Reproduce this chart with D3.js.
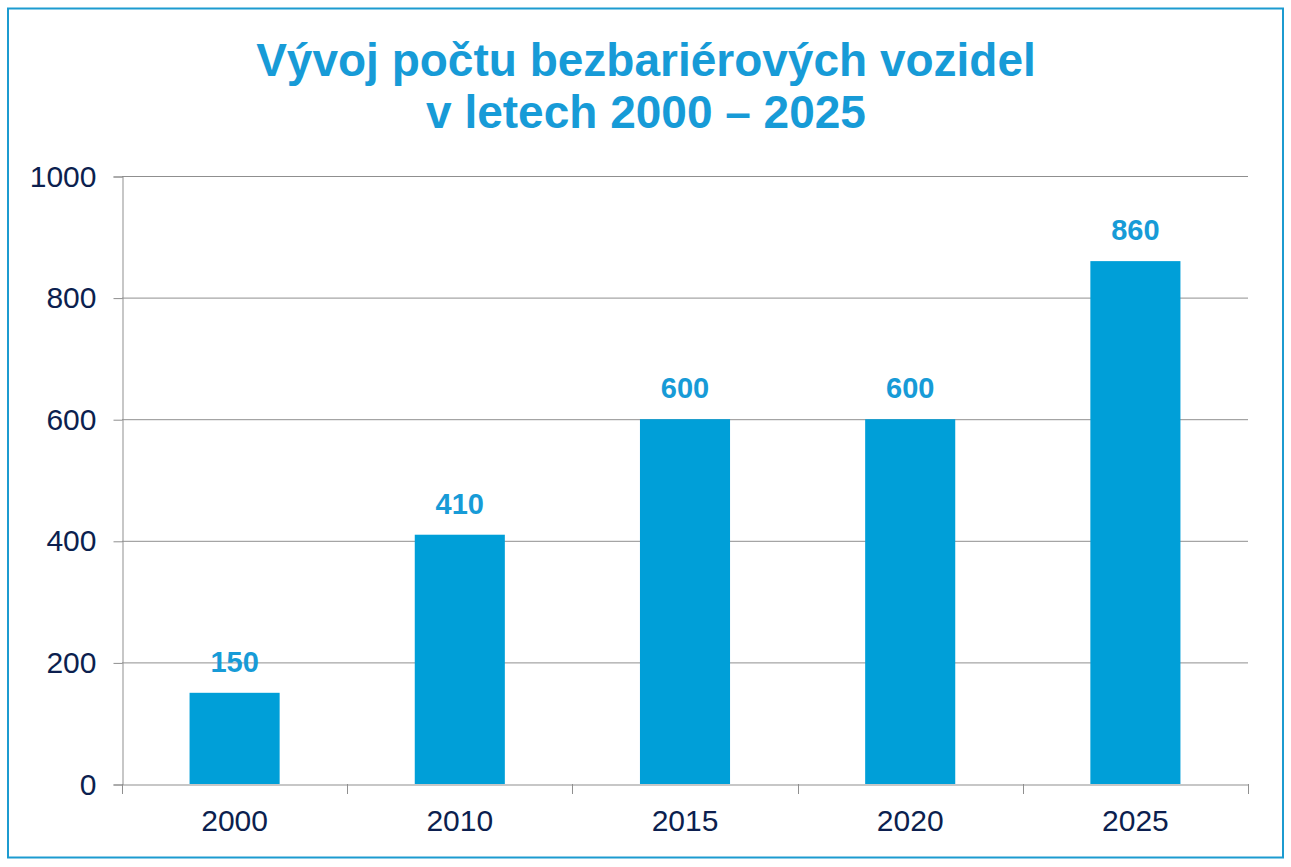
<!DOCTYPE html>
<html><head><meta charset="utf-8">
<script src="https://cdn.jsdelivr.net/npm/d3@7"></script>
<style>body{margin:0;background:#fff}svg{display:block}text{font-family:"Liberation Sans",Arial,sans-serif}</style>
</head><body>
<svg id="c" width="1291" height="867"></svg>
<script>
const categories = ["2000","2010","2015","2020","2025"];
const values = [150,410,600,600,860];
const yTicks = [0,200,400,600,800,1000];
const titleLines = ["Vývoj počtu bezbariérových vozidel","v letech 2000 – 2025"];

(function(){
const svg = d3.select("#c");
const pLeft=122,pRight=1248,pTop=176,pBottom=784;
const blue="#009fd8", labelBlue="#179bd7", navy="#0c1f4f", grid="#8f8f8f";

svg.append("rect").attr("x",8).attr("y",8.5).attr("width",1275).attr("height",849)
  .attr("fill","#fff").attr("stroke","#1c9bd0").attr("stroke-width",2);

svg.selectAll("text.title").data(titleLines).enter().append("text").attr("class","title")
  .attr("x",646).attr("y",(d,i)=>76+i*52).attr("text-anchor","middle")
  .attr("font-size",46).attr("font-weight","bold").attr("fill",labelBlue).text(d=>d);

const x=d3.scaleBand().domain(categories).range([pLeft,pRight]).padding(0);
const y=d3.scaleLinear().domain([0,1000]).range([pBottom,pTop]);

svg.append("g").selectAll("line").data(yTicks.filter(t=>t>0)).enter().append("line")
  .attr("x1",pLeft).attr("x2",pRight).attr("y1",d=>y(d)+0.5).attr("y2",d=>y(d)+0.5)
  .attr("stroke",grid).attr("stroke-width",1);

const ya=svg.append("g").attr("transform",`translate(${pLeft+0.5},0.5)`)
  .call(d3.axisLeft(y).tickValues(yTicks).tickSize(9).tickPadding(17).tickFormat(d3.format("d")));
ya.select(".domain").attr("stroke",grid);
ya.selectAll(".tick line").attr("stroke",grid);
ya.selectAll(".tick text").attr("font-size",30).attr("fill",navy).attr("font-family","Liberation Sans, Arial, sans-serif");

const bw=x.bandwidth()*0.4;
svg.append("g").selectAll("rect").data(values).enter().append("rect")
  .attr("x",(d,i)=>x(categories[i])+x.bandwidth()/2-bw/2).attr("width",bw)
  .attr("y",d=>y(d)).attr("height",d=>pBottom-y(d)).attr("fill",blue);

const xa=svg.append("g").attr("transform",`translate(0,${pBottom+0.5})`)
  .call(d3.axisBottom(x).tickSize(0).tickPadding(25));
xa.select(".domain").attr("stroke",grid);
xa.selectAll(".tick text").attr("font-size",30).attr("fill",navy).attr("font-family","Liberation Sans, Arial, sans-serif");
const seps=categories.map(c=>x(c)).concat([pRight]);
svg.append("g").selectAll("line").data(seps).enter().append("line")
  .attr("x1",d=>Math.round(d)+0.5).attr("x2",d=>Math.round(d)+0.5).attr("y1",pBottom).attr("y2",pBottom+10)
  .attr("stroke",grid);

svg.append("g").selectAll("text").data(values).enter().append("text")
  .attr("x",(d,i)=>x(categories[i])+x.bandwidth()/2).attr("y",d=>y(d)-21)
  .attr("text-anchor","middle").attr("font-size",29).attr("font-weight","bold").attr("fill",labelBlue).text(d=>d);
})();
</script>
</body></html>
